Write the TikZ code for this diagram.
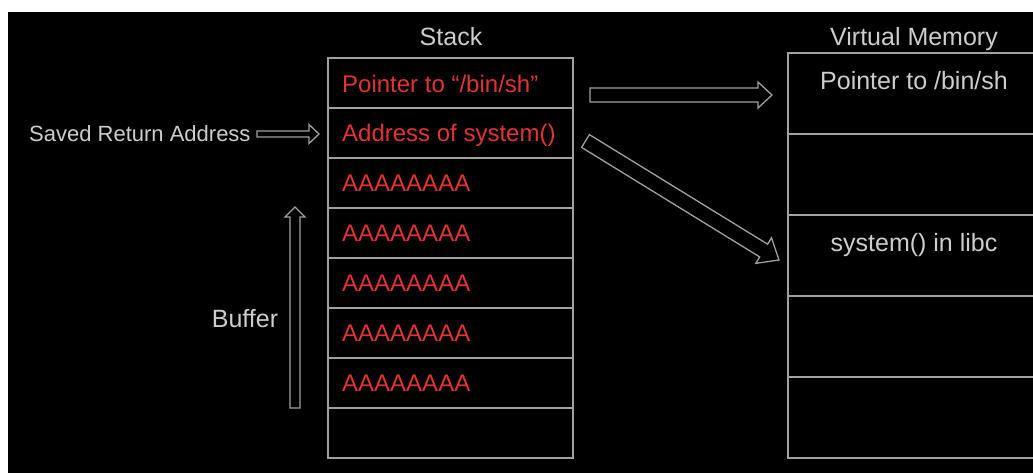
\documentclass[tikz,border=0pt]{standalone}
\usepackage{fontspec}
\setmainfont{Liberation Sans}
\usetikzlibrary{calc}
\definecolor{linegray}{RGB}{160,160,160}
\definecolor{txtgray}{RGB}{205,205,205}
\definecolor{redtxt}{RGB}{224,52,52}
\tikzset{
  cell/.style={draw=linegray, line width=1.4pt, minimum width=245pt, minimum height=50pt, inner sep=0pt, fill=none},
  vcell/.style={draw=linegray, line width=1.4pt, minimum width=250pt, minimum height=81pt, inner sep=0pt},
  wtxt/.style={text=txtgray, inner sep=0pt, font=\fontsize{25}{30}\selectfont},
  rtxt/.style={text=redtxt, inner sep=0pt, font=\fontsize{24}{29}\selectfont},
  arrowline/.style={draw=linegray, line width=1.3pt, line join=miter},
}
% block arrow: from, to, shaft half width, head half width, head length
\newcommand\blockarrow[5]{%
  \path let \p1=($(#2)-(#1)$) in \pgfextra{%
    \pgfmathparse{atan2(\y1,\x1)}\xdef\baang{\pgfmathresult}%
    \pgfmathparse{veclen(\x1,\y1)}\xdef\balen{\pgfmathresult}};
  \begin{scope}[shift={(#1)}, rotate=\baang]
    \draw[arrowline] (0,#3) -- ({\balen-#5},#3) -- ({\balen-#5},#4) -- (\balen,0)
      -- ({\balen-#5},-#4) -- ({\balen-#5},-#3) -- (0,-#3) -- cycle;
  \end{scope}}
\begin{document}
\begin{tikzpicture}[x=1pt, y=-1pt]
\useasboundingbox (0,0) rectangle (1033,472);
\fill[white] (0,0) rectangle (1033,472);
\fill[black] (8,12) rectangle (1040,480);

% Stack
\node[wtxt, anchor=base] (stacklbl) at (451,45) {Stack};
\foreach \i in {1,...,8} {
  \node[cell] (s\i) at (450.5,{83+50*(\i-1)}) {};
}
\node[rtxt, anchor=base west] (t1) at (342,92) {Pointer to “/bin/sh”};
\node[rtxt, anchor=base west] (t2) at (342,141.5) {Address of system()};
\foreach \i in {3,...,7} {
  \node[rtxt, anchor=base west] (t\i) at (342,{141.5+50*(\i-2)}) {AAAAAAAA};
}

% Virtual memory
\node[wtxt, anchor=base] (vmlbl) at (914,45) {Virtual Memory};
\foreach \i in {1,...,5} {
  \node[vcell] (v\i) at (913,{93.5+81*(\i-1)}) {};
}
\node[wtxt, anchor=base] (vm1) at (914,89) {Pointer to /bin/sh};
\node[wtxt, anchor=base] (vm3) at (914,251) {system() in libc};

% Left labels
\node[text=txtgray, inner sep=0pt, font=\fontsize{22}{26}\selectfont, anchor=base west] (sra) at (29,141) {Saved Return Address};
\node[wtxt, anchor=base] (buf) at (245,327) {Buffer};

% Arrows
\coordinate (a1s) at (257,134);  \coordinate (a1e) at (319,134);
\coordinate (a2s) at (590,95);   \coordinate (a2e) at (772,95);
\coordinate (a3s) at (585.5,141);\coordinate (a3e) at (779,260);
\coordinate (a4s) at (295,408);  \coordinate (a4e) at (295,207);
\blockarrow{a1s}{a1e}{3}{9.5}{10}
\blockarrow{a2s}{a2e}{7}{13}{14}
\blockarrow{a3s}{a3e}{7.5}{15}{18}
\blockarrow{a4s}{a4e}{5}{10}{10}
\end{tikzpicture}
\end{document}
